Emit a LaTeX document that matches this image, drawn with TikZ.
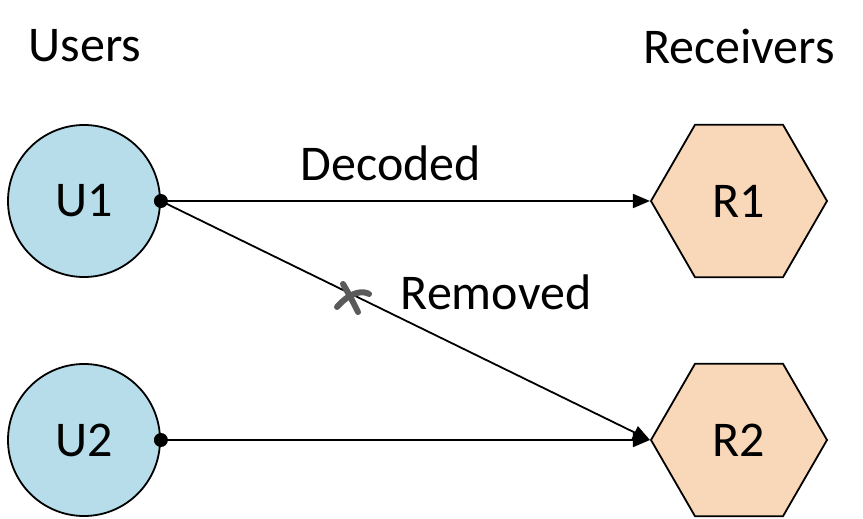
\documentclass[tikz,border=0pt]{standalone}
\usepackage{fontspec}
\setmainfont{Carlito}
\usetikzlibrary{shapes.geometric,arrows.meta}
\definecolor{ublue}{RGB}{182,221,233}
\definecolor{rpeach}{RGB}{249,215,185}
\definecolor{xgray}{RGB}{90,90,90}
\tikzset{
  user/.style={circle,draw=black,line width=1.8pt,fill=ublue,minimum size=152pt,inner sep=0pt,font=\fontsize{50}{56}\selectfont},
  recv/.style={regular polygon,regular polygon sides=6,draw=black,line width=1.8pt,fill=rpeach,minimum size=176pt,inner sep=0pt,font=\fontsize{50}{56}\selectfont},
  lbl/.style={font=\fontsize{50}{56}\selectfont,inner sep=0pt},
  dot/.style={circle,fill=black,minimum size=14pt,inner sep=0pt},
  conn/.style={line width=1.8pt,-{Triangle[length=17pt,width=14pt]}},
}
\begin{document}
\begin{tikzpicture}[x=1pt,y=-1pt]
\useasboundingbox (0,0) rectangle (863,519);
\node[user] (U1) at (84,201) {U1};
\node[user] (U2) at (84,440) {U2};
\node[recv] (R1) at (739,201) {R1};
\node[recv] (R2) at (739,440) {R2};
\node[lbl] (users) at (85,46) {Users};
\node[lbl] (recvs) at (739,46) {Receivers};
\node[lbl] (dec) at (391,163) {Decoded};
\node[lbl] (rem) at (496,292) {Removed};
\draw[conn] (U1.east) -- (R1.west);
\draw[conn] (U1.east) -- (R2.west);
\draw[conn] (U2.east) -- (R2.west);
\node[dot] (d1) at (U1.east) {};
\node[dot] (d2) at (U2.east) {};
\draw[xgray,line width=6pt,line cap=round] (343,284) .. controls (350,296) .. (358,312);
\draw[xgray,line width=6pt,line cap=round] (337,307) .. controls (352,290) and (364,291) .. (369,294);
\end{tikzpicture}
\end{document}
